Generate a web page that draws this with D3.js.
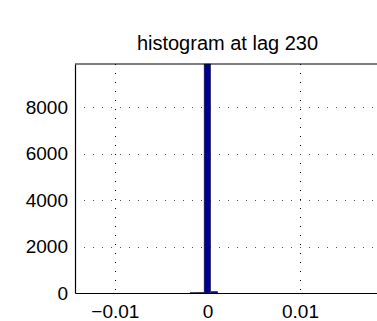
<!DOCTYPE html>
<html lang="en">
<head>
  <meta charset="utf-8">
  <title>histogram at lag 230</title>
  <script src="https://d3js.org/d3.v7.min.js"></script>
  <style>
    body { margin: 0; background: #fff; }
    svg { display: block; font-family: "Liberation Sans", Arial, sans-serif; }
  </style>
</head>
<body>
<div id="chart"></div>
<script>
  // histogram bins (centres) and counts
  var binCenters = [-0.0015, -0.00075, 0, 0.00075];
  var binCounts  = [15, 30, 9850, 70];
  var binWidth = 0.00072;
  var xTicks = [-0.01, 0, 0.01];
  var xTickLabels = ["\u22120.01", "0", "0.01"];
  var yTicks = [0, 2000, 4000, 6000, 8000];

  var width = 377, height = 321;
  var margin = {top: 64, right: -3, bottom: 28, left: 75};
  var w = width - margin.left - margin.right;
  var h = height - margin.top - margin.bottom;

  var svg = d3.select("#chart").append("svg")
    .attr("width", width)
    .attr("height", height);

  var g = svg.append("g")
    .attr("transform", "translate(" + margin.left + "," + margin.top + ")");

  var x = d3.scaleLinear().domain([-0.01431, 0.01865]).range([0, w]);
  var y = d3.scaleLinear().domain([0, 9850]).range([h, 0]);

  // dotted grid
  g.selectAll(".vgrid").data(xTicks).enter().append("line")
    .attr("x1", function(d) { return Math.round(x(d)) + 0.5; })
    .attr("x2", function(d) { return Math.round(x(d)) + 0.5; })
    .attr("y1", 0).attr("y2", h)
    .attr("stroke", "#000").attr("stroke-width", 1)
    .attr("stroke-dasharray", "1,8");
  g.selectAll(".hgrid").data(yTicks.slice(1)).enter().append("line")
    .attr("y1", function(d) { return Math.round(y(d)) + 0.5; })
    .attr("y2", function(d) { return Math.round(y(d)) + 0.5; })
    .attr("x1", 0).attr("x2", w)
    .attr("stroke", "#555").attr("stroke-width", 1)
    .attr("stroke-dasharray", "1,8");

  // bars
  g.selectAll(".bar").data(binCenters).enter().append("rect")
    .attr("class", "bar")
    .attr("x", function(d) { return x(d - binWidth / 2); })
    .attr("width", function(d) { return x(d + binWidth / 2) - x(d - binWidth / 2); })
    .attr("y", function(d, i) { return y(binCounts[i]); })
    .attr("height", function(d, i) { return h - y(binCounts[i]); })
    .attr("fill", "#00008f")
    .attr("stroke", "#333")
    .attr("stroke-width", 0.5);

  // axes
  var xAxis = d3.axisBottom(x).tickValues(xTicks).tickSize(0).tickPadding(12)
    .tickFormat(function(d, i) { return xTickLabels[i]; });
  var yAxis = d3.axisLeft(y).tickValues(yTicks).tickSize(0).tickPadding(7)
    .tickFormat(d3.format("d"));

  g.append("g").attr("transform", "translate(0," + h + ")").call(xAxis)
    .call(function(s) { s.select(".domain").attr("stroke-width", 1.2); })
    .selectAll("text").attr("font-size", "19px").attr("fill", "#000");
  g.append("g").call(yAxis)
    .call(function(s) { s.select(".domain").attr("stroke-width", 1.2); })
    .selectAll("text").attr("font-size", "19px").attr("fill", "#000");

  // box top
  g.append("line").attr("x1", 0).attr("x2", w).attr("y1", 0).attr("y2", 0)
    .attr("stroke", "#000").attr("stroke-width", 1.2);

  svg.append("text")
    .attr("x", margin.left + w / 2)
    .attr("y", 50)
    .attr("text-anchor", "middle")
    .attr("font-size", "20px")
    .text("histogram at lag 230");
</script>
</body>
</html>
